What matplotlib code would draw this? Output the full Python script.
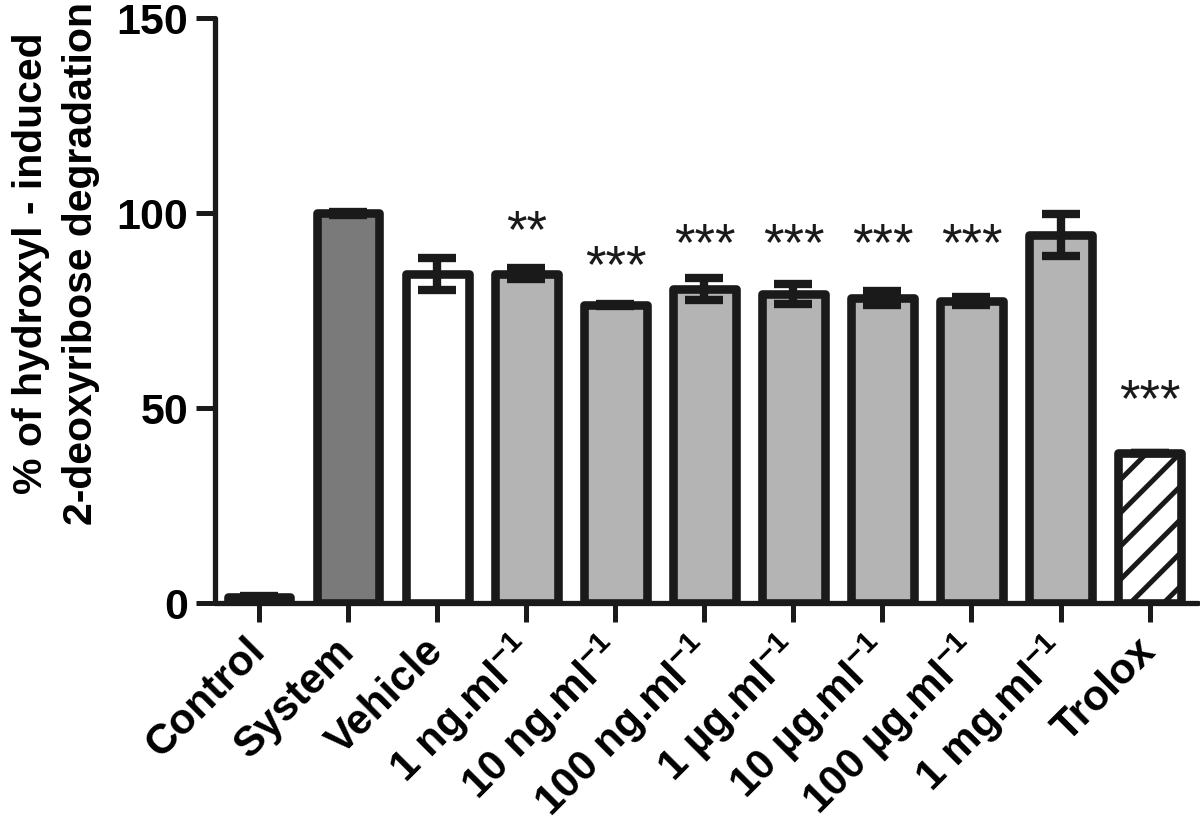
import matplotlib
matplotlib.use("Agg")
import matplotlib.pyplot as plt
from matplotlib import font_manager
import numpy as np

# figure is drawn at 200 dpi so hatch spacing matches; sizes given in
# "100-dpi points" are halved by P()
DPI = 200
def P(v):
    return v * 100.0 / DPI

names = {f.name for f in font_manager.fontManager.ttflist}
fam = 'Liberation Sans Narrow' if 'Liberation Sans Narrow' in names else 'Liberation Sans'
plt.rcParams['font.family'] = [fam, 'DejaVu Sans']
plt.rcParams['mathtext.fontset'] = 'custom'
plt.rcParams['mathtext.rm'] = fam + ':bold'
plt.rcParams['mathtext.it'] = fam + ':bold'
plt.rcParams['mathtext.bf'] = fam + ':bold'
plt.rcParams['hatch.linewidth'] = P(3.6)

categories = ["Control", "System", "Vehicle", "1 ng.ml$^{-1}$", "10 ng.ml$^{-1}$",
              "100 ng.ml$^{-1}$", "1 µg.ml$^{-1}$", "10 µg.ml$^{-1}$",
              "100 µg.ml$^{-1}$", "1 mg.ml$^{-1}$", "Trolox"]
means = [1.5, 100.0, 84.5, 84.5, 76.5, 80.5, 79.3, 78.3, 77.5, 94.3, 38.5]
errors = [0.3, 0.4, 4.1, 1.5, 0.3, 2.8, 2.6, 1.8, 1.0, 5.4, 0.0]
fills = ["#1a1a1a", "#7a7a7a", "#ffffff", "#b4b4b4", "#b4b4b4", "#b4b4b4",
         "#b4b4b4", "#b4b4b4", "#b4b4b4", "#b4b4b4", "#ffffff"]
hatches = [None] * 10 + ["//"]
sig_labels = ["", "", "", "**", "***", "***", "***", "***", "***", "", "***"]
sig_y = [None, None, None, 95.0, 86.0, 91.5, 91.5, 91.5, 91.5, None, 51.5]

fig = plt.figure(figsize=(1200 / DPI, 824 / DPI), dpi=DPI)
ax = fig.add_axes([0.179, 0.268, 0.819, 0.710])

x = np.arange(len(categories))
ink = "#1a1a1a"
bars = ax.bar(x, means, width=0.70, color=fills, edgecolor=ink, linewidth=P(6.2),
              zorder=2)
for b, h in zip(bars, hatches):
    b.set_joinstyle('round')
    if h:
        b.set_hatch(h)

ax.errorbar(x, means, yerr=errors, fmt='none', ecolor=ink, elinewidth=P(6.0),
            capsize=P(14), capthick=P(6.0), zorder=3)

for xi, lab, yy in zip(x, sig_labels, sig_y):
    if lab:
        ax.text(xi, yy, lab, ha='center', va='center', fontsize=P(38),
                color=ink)

ax.set_ylim(0, 150)
ax.set_xlim(-0.5, 10.54)
ax.set_yticks([0, 50, 100, 150])
ax.set_yticklabels(["0", "50", "100", "150"], fontsize=P(31), fontweight='bold')
ax.set_xticks(x)
ax.set_xticklabels(categories, rotation=45, ha='right', va='center',
                   rotation_mode='anchor', fontsize=P(30.5), fontweight='bold')
ax.tick_params(axis='both', length=P(14), width=P(3.6), color=ink)
ax.tick_params(axis='x', pad=P(16))
ax.tick_params(axis='y', pad=P(5))
for s in ['top', 'right']:
    ax.spines[s].set_visible(False)
for s in ['left', 'bottom']:
    ax.spines[s].set_linewidth(P(3.8))
    ax.spines[s].set_color(ink)
    ax.spines[s].set_capstyle('round')

ax.set_ylabel("% of hydroxyl - induced\n2-deoxyribose degradation",
              fontsize=P(29.5), fontweight='bold', linespacing=1.4)
ax.yaxis.set_label_coords(-0.117, 0.581)

fig.savefig("out.png", dpi=DPI)
